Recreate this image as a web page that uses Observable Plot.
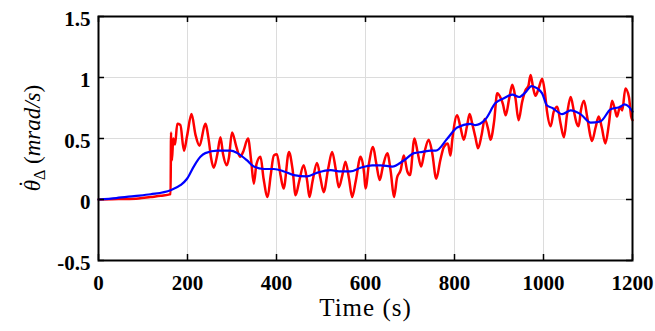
<!DOCTYPE html>
<html>
<head>
<meta charset="utf-8">
<script src="https://cdn.jsdelivr.net/npm/d3@7"></script>
<script src="https://cdn.jsdelivr.net/npm/@observablehq/plot@0.6"></script>
<style>
  html, body { margin: 0; padding: 0; background: #fff; }
</style>
</head>
<body>
<div id="chart"></div>
<script>
// ---- data ----
const xTicks = [0, 200, 400, 600, 800, 1000, 1200];
const yTicks = [-0.5, 0, 0.5, 1, 1.5];
const yTickLabels = ["-0.5", "0", "0.5", "1", "1.5"];

// red (measured) series: time (s) and value (mrad/s)
const redT = [0, 30, 60, 90, 117, 140, 162, 163, 165, 168, 172, 177, 184, 192, 199, 209, 218, 227, 240, 248, 253, 259, 267, 274, 280, 288, 293, 300, 310, 318, 325, 336, 343, 349, 355, 364, 371, 380, 387, 394, 401, 409, 416, 428, 436, 443, 451, 461, 469, 474, 481, 491, 499, 506, 516, 525, 533, 540, 548, 555, 563, 570, 578, 589, 597, 600, 608, 617, 624, 632, 639, 649, 657, 664, 671, 679, 686, 694, 700, 710, 717, 725, 732, 742, 750, 759, 768, 776, 785, 791, 795, 806, 813, 821, 828, 834, 840, 847, 853, 861, 868, 876, 881, 889, 896, 904, 909, 915, 923, 930, 937, 944, 952, 960, 966, 971, 977, 982, 989, 997, 1003, 1008, 1016, 1023, 1031, 1038, 1046, 1053, 1061, 1068, 1074, 1079, 1084, 1091, 1098, 1106, 1109, 1117, 1124, 1131, 1139, 1147, 1154, 1161, 1165, 1172, 1177, 1184, 1192, 1197, 1200];
const redV = [0, 0.003, 0.004, 0.008, 0.02, 0.03, 0.044, 0.55, 0.32, 0.50, 0.45, 0.62, 0.61, 0.40, 0.52, 0.70, 0.53, 0.44, 0.62, 0.48, 0.34, 0.26, 0.37, 0.51, 0.37, 0.28, 0.34, 0.55, 0.43, 0.35, 0.39, 0.50, 0.32, 0.13, 0.29, 0.35, 0.17, 0.02, 0.20, 0.36, 0.37, 0.20, 0.09, 0.39, 0.25, 0.035, 0.15, 0.28, 0.15, 0.02, 0.15, 0.30, 0.17, 0.06, 0.25, 0.39, 0.25, 0.10, 0.20, 0.31, 0.17, 0.02, 0.15, 0.35, 0.21, 0.09, 0.30, 0.43, 0.30, 0.16, 0.27, 0.38, 0.22, 0.02, 0.18, 0.24, 0.36, 0.23, 0.20, 0.50, 0.39, 0.27, 0.38, 0.49, 0.38, 0.17, 0.32, 0.43, 0.46, 0.36, 0.49, 0.69, 0.60, 0.49, 0.60, 0.70, 0.62, 0.51, 0.42, 0.53, 0.66, 0.57, 0.49, 0.64, 0.87, 0.83, 0.78, 0.69, 0.83, 0.94, 0.83, 0.65, 0.80, 0.90, 0.93, 1.02, 0.91, 0.85, 0.91, 0.99, 0.88, 0.72, 0.60, 0.72, 0.76, 0.63, 0.51, 0.70, 0.84, 0.73, 0.63, 0.60, 0.73, 0.81, 0.68, 0.51, 0.48, 0.59, 0.68, 0.59, 0.46, 0.62, 0.81, 0.73, 0.68, 0.76, 0.73, 0.91, 0.84, 0.68, 0.65];

// blue (estimated / smoothed) series
const blueT = [0, 40, 80, 117, 162, 184, 199, 214, 229, 240, 267, 297, 312, 334, 349, 372, 394, 417, 439, 469, 492, 522, 545, 566, 589, 615, 634, 660, 686, 709, 728, 746, 758, 784, 806, 836, 847, 870, 892, 911, 930, 945, 960, 973, 986, 997, 1008, 1020, 1042, 1061, 1083, 1106, 1128, 1151, 1173, 1182, 1192, 1200];
const blueV = [0, 0.012, 0.028, 0.043, 0.076, 0.117, 0.17, 0.27, 0.35, 0.38, 0.40, 0.40, 0.38, 0.32, 0.27, 0.25, 0.25, 0.23, 0.20, 0.19, 0.22, 0.24, 0.23, 0.23, 0.26, 0.28, 0.28, 0.27, 0.32, 0.38, 0.39, 0.40, 0.40, 0.50, 0.59, 0.62, 0.61, 0.66, 0.79, 0.83, 0.86, 0.84, 0.88, 0.93, 0.91, 0.87, 0.77, 0.75, 0.70, 0.73, 0.70, 0.63, 0.64, 0.74, 0.76, 0.78, 0.76, 0.72];

const xLabel = "Time (s)";

const red = redT.map((t, i) => ({t, v: redV[i]}));
const blue = blueT.map((t, i) => ({t, v: blueV[i]}));

const W = 655, H = 331;
const mL = 98, mR = 23, mT = 16, mB = 71;
const innerW = W - mL - mR, innerH = H - mT - mB;
const tickLen = 6;
const serif = "'Liberation Serif', 'Times New Roman', Times, 'DejaVu Serif', serif";

const chart = Plot.plot({
  width: W, height: H,
  marginLeft: mL, marginRight: mR, marginTop: mT, marginBottom: mB,
  style: {fontFamily: serif, fontSize: "21px", fontWeight: "bold", background: "#fff", color: "#000"},
  x: {domain: [0, 1200]},
  y: {domain: [-0.5, 1.5]},
  marks: [
    Plot.gridX(xTicks, {stroke: "#dcdcdc", strokeOpacity: 1, strokeWidth: 1}),
    Plot.gridY(yTicks, {stroke: "#dcdcdc", strokeOpacity: 1, strokeWidth: 1}),
    Plot.line(red, {x: "t", y: "v", stroke: "#ff0000", strokeWidth: 2.5, curve: "monotone-x"}),
    Plot.line(blue, {x: "t", y: "v", stroke: "#0000ff", strokeWidth: 2.2, curve: "monotone-x"}),
    // inward ticks: bottom, top, left, right
    Plot.tickX(xTicks, {x: d => d, stroke: "#000", strokeWidth: 1.5, insetTop: innerH - tickLen}),
    Plot.tickX(xTicks, {x: d => d, stroke: "#000", strokeWidth: 1.5, insetBottom: innerH - tickLen}),
    Plot.tickY(yTicks, {y: d => d, stroke: "#000", strokeWidth: 1.5, insetRight: innerW - tickLen}),
    Plot.tickY(yTicks, {y: d => d, stroke: "#000", strokeWidth: 1.5, insetLeft: innerW - tickLen}),
    Plot.frame({stroke: "#000", strokeWidth: 2}),
    Plot.axisX(xTicks, {tickSize: 0, tickPadding: 15, label: null, tickFormat: d => String(d), fontFamily: serif, fontWeight: "bold"}),
    Plot.axisY(yTicks, {tickSize: 0, tickPadding: 8, dy: 2.5, label: null, tickFormat: (d, i) => yTickLabels[i], fontFamily: serif, fontWeight: "bold"}),
    Plot.text([xLabel], {frameAnchor: "bottom", lineAnchor: "middle", dy: 47, fontSize: 25, fontWeight: "normal", fontFamily: serif, fill: "#000"})
  ]
});

document.getElementById("chart").appendChild(chart);

// widen the x label a little (Computer Modern look)
d3.select(chart).selectAll("text").filter(function() { return this.textContent === xLabel; })
  .style("letter-spacing", "1px");

// y-axis label with dotted theta and subscript Delta
const svg = d3.select(chart);
const yl = svg.append("text")
  .attr("transform", `translate(40,${mT + innerH / 2}) rotate(-90)`)
  .attr("text-anchor", "middle")
  .style("font-family", serif)
  .attr("font-size", 23)
  .attr("font-weight", "normal")
  .attr("fill", "#000");
yl.append("tspan").attr("font-style", "italic").text("\u03B8");
yl.append("tspan").attr("dx", "-0.34em").attr("dy", "-0.22em").text("\u02D9");
yl.append("tspan").attr("font-size", 16).attr("dy", 10.1).text("\u0394");
yl.append("tspan").attr("dy", -5).text(" (");
yl.append("tspan").attr("font-style", "italic").text("mrad/s");
yl.append("tspan").text(")");
</script>
</body>
</html>
